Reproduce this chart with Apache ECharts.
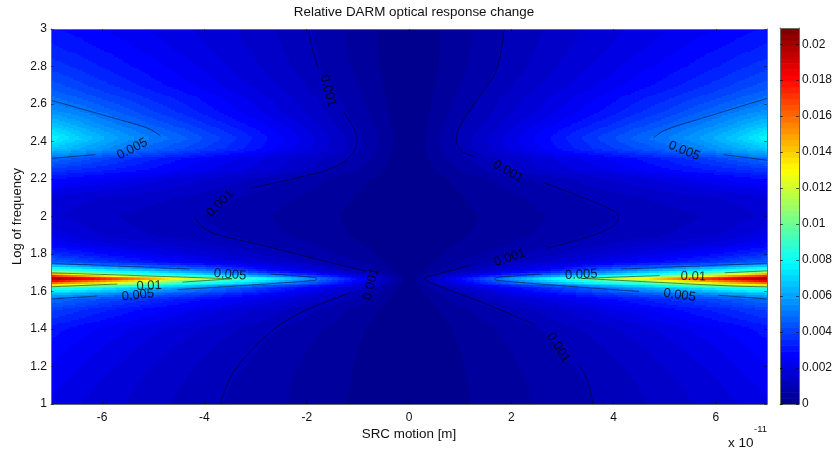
<!DOCTYPE html>
<html><head><meta charset="utf-8">
<style>html,body{margin:0;padding:0;background:#fff}#c{width:836px;height:454px}canvas{filter:blur(.35px)}</style>
<script src="https://cdn.jsdelivr.net/npm/echarts@6/dist/echarts.min.js"></script>
</head><body><div id="c"></div>
<script>
const titleText = 'Relative DARM optical response change';
const xName = 'SRC motion [m]';
const yName = 'Log of frequency';
const xTicks = [-6,-4,-2,0,2,4,6];
const yTicks = [1,1.2,1.4,1.6,1.8,2,2.2,2.4,2.6,2.8,3];
const cbTicks = [0,0.002,0.004,0.006,0.008,0.01,0.012,0.014,0.016,0.018,0.02];
const zMax = 0.0209;
const xCols = [-7,-6.5,-6,-5.5,-5,-4.5,-4,-3.5,-3,-2.5,-2,-1.5,-1,-0.5,0,0.5,1,1.5,2,2.5,3,3.5,4,4.5,5,5.5,6,6.5,7];
const yRows = [1,1.1,1.2,1.3,1.4,1.5,1.56,1.6,1.625,1.65,1.67,1.69,1.71,1.75,1.8,1.85,1.9,2,2.1,2.2,2.25,2.31,2.36,2.42,2.48,2.55,2.63,2.7,2.8,2.9,3];
// values in units of 1e-5, one row per yRows entry, left to right along xCols
const zRows = [
[220,198,178,160,143,125,108,95,82,68,55,41,27,14,0,14,27,41,55,68,82,95,108,125,143,160,178,198,220],
[240,215,190,170,150,132,114,98,84,70,56,42,28,14,0,14,28,42,56,70,84,98,114,132,150,170,190,215,240],
[260,234,208,185,163,143,124,107,91,75,60,45,30,15,0,15,30,45,60,75,91,107,124,143,163,185,208,234,260],
[280,254,228,204,180,158,138,118,100,83,67,50,33,17,0,17,33,50,67,83,100,118,138,158,180,204,228,254,280],
[310,282,255,230,205,181,158,136,115,96,77,58,38,19,0,19,38,58,77,96,115,136,158,181,205,230,255,282,310],
[400,367,335,305,277,248,220,190,162,135,108,81,54,27,0,27,54,81,108,135,162,190,220,248,277,305,335,367,400],
[500,460,425,390,358,325,295,262,230,195,160,125,83,42,0,42,83,125,160,195,230,262,295,325,358,390,425,460,500],
[750,700,650,600,550,500,450,400,345,290,235,175,118,60,0,60,118,175,235,290,345,400,450,500,550,600,650,700,750],
[1000,925,850,780,710,640,570,500,430,360,295,230,160,85,0,85,160,230,295,360,430,500,570,640,710,780,850,925,1000],
[1750,1610,1460,1310,1160,1000,910,820,720,610,500,375,250,125,0,125,250,375,500,610,720,820,910,1000,1160,1310,1460,1610,1750],
[2090,1975,1850,1700,1550,1370,1250,1050,890,740,590,440,295,150,0,150,295,440,590,740,890,1050,1250,1370,1550,1700,1850,1975,2090],
[1650,1430,1230,1060,930,830,735,640,545,465,365,275,185,92,0,92,185,275,365,465,545,640,735,830,930,1060,1230,1430,1650],
[1000,905,815,740,670,600,530,450,345,275,215,160,105,55,0,55,105,160,215,275,345,450,530,600,670,740,815,905,1000],
[500,450,400,360,320,290,260,225,195,165,130,100,70,36,0,36,70,100,130,165,195,225,260,290,320,360,400,450,500],
[360,325,290,260,232,205,180,155,130,108,88,68,47,24,0,24,47,68,88,108,130,155,180,205,232,260,290,325,360],
[270,240,210,190,172,155,138,120,105,87,70,53,36,18,0,18,36,53,70,87,105,120,138,155,172,190,210,240,270],
[220,188,160,142,128,116,110,98,82,68,55,41,28,14,0,14,28,41,55,68,82,98,110,116,128,142,160,188,220],
[170,152,137,125,115,105,96,84,72,60,48,36,24,12,0,12,24,36,48,60,72,84,96,105,115,125,137,152,170],
[185,173,162,152,140,128,116,102,87,72,58,44,30,15,0,15,30,44,58,72,87,102,116,128,140,152,162,173,185],
[300,278,255,233,210,188,166,145,125,104,83,62,42,21,0,21,42,62,83,104,125,145,166,188,210,233,255,278,300],
[380,357,335,310,285,260,235,208,183,157,130,100,66,33,0,33,66,100,130,157,183,208,235,260,285,310,335,357,380],
[500,455,410,370,335,300,270,240,210,180,150,120,88,44,0,44,88,120,150,180,210,240,270,300,335,370,410,455,500],
[680,625,570,510,470,430,390,350,305,255,205,155,104,52,0,52,104,155,205,255,305,350,390,430,470,510,570,625,680],
[780,700,630,570,520,475,425,375,320,270,215,160,108,54,0,54,108,160,215,270,320,375,425,475,520,570,630,700,780],
[690,625,565,515,465,420,375,330,285,240,190,140,95,48,0,48,95,140,190,240,285,330,375,420,465,515,565,625,690],
[580,540,495,445,400,360,320,280,240,200,160,122,82,41,0,41,82,122,160,200,240,280,320,360,400,445,495,540,580],
[500,460,420,385,350,320,285,250,215,180,145,110,73,36,0,36,73,110,145,180,215,250,285,320,350,385,420,460,500],
[440,405,370,338,308,278,248,218,188,158,128,97,65,32,0,32,65,97,128,158,188,218,248,278,308,338,370,405,440],
[380,352,325,298,273,248,222,195,168,141,113,85,57,28,0,28,57,85,113,141,168,195,222,248,273,298,325,352,380],
[335,312,290,268,245,222,200,178,155,132,108,81,54,27,0,27,54,81,108,132,155,178,200,222,245,268,290,312,335],
[300,281,262,243,225,207,187,167,146,125,105,78,52,26,0,26,52,78,105,125,146,167,187,207,225,243,262,281,300]
];
// contour segments
const contours001 = [
[[-1.96,3],[-1.9,2.9],[-1.77,2.79]],
[[-1.28,2.56],[-1.08,2.47],[-1.01,2.42],[-1.09,2.34],[-1.48,2.26],[-2.3,2.2],[-3.1,2.15]],
[[-4.2,2],[-4.08,1.955],[-3.82,1.91],[-2.77,1.84],[-1.48,1.75],[-0.85,1.71]],
[[-1.18,1.59],[-2.13,1.485],[-2.77,1.37],[-3.43,1.17],[-3.69,1]],
[[1.86,3],[1.71,2.78],[1.32,2.62],[0.97,2.47],[0.93,2.41],[1.02,2.35],[1.28,2.32]],
[[2.63,2.18],[3.41,2.1],[4.06,2.02],[4.09,1.99],[4.02,1.955],[3.6,1.9],[2.69,1.83]],
[[1.22,1.74],[0.53,1.69],[0.3,1.67],[0.53,1.635],[1.45,1.54],[2.49,1.42]],
[[3.31,1.21],[3.47,1.14],[3.6,1]]
];
const contours005 = [
[[-7,2.62],[-5.58,2.51],[-5.1,2.47],[-4.86,2.43]],
[[-7,2.31],[-6.13,2.33]],
[[7,2.63],[5.56,2.51],[5,2.46],[4.78,2.42]],
[[6.15,2.33],[7,2.3]],
[[-7,1.75],[-4.28,1.72]],
[[-2.71,1.693],[-1.85,1.675],[-1.8,1.667],[-1.87,1.658],[-4.53,1.61]],
[[-7,1.56],[-6.1,1.576]],
[[2.59,1.693],[1.72,1.675],[1.67,1.667],[1.75,1.658],[4.5,1.6]],
[[4.15,1.72],[7,1.75]],
[[6.05,1.58],[7,1.56]]
];
const contours01 = [
[[-7,1.7],[-3.46,1.668]],
[[-7,1.625],[-5.7,1.64]],
[[-4.43,1.65],[-3.46,1.668]],
[[3.37,1.67],[4.9,1.685]],
[[6.17,1.7],[7,1.71]],
[[3.37,1.67],[6.27,1.63],[7,1.625]]
];
const contourLabels = [
[-5.41,2.36,'0.005',27],[-1.58,2.67,'0.001',-75],[-3.69,2.07,'0.001',45],[-3.5,1.69,'0.005',-5],
[-5.08,1.63,'0.01',3],[-5.3,1.58,'0.005',6],[-0.74,1.64,'0.001',75],[1.94,2.24,'0.001',-30],
[5.38,2.35,'0.005',-22],[1.97,1.78,'0.001',18],[3.37,1.69,'0.005',3],[5.56,1.68,'0.01',-2],
[5.29,1.58,'0.005',-8],[2.92,1.3,'0.001',-58]
];
const jetStops = [[0,[0,0,143]],[0.125,[0,0,255]],[0.375,[0,255,255]],[0.625,[255,255,0]],[0.875,[255,0,0]],[1,[128,0,0]]];
const nLevels = 64;

function jet(t){
  for(let i=1;i<jetStops.length;i++){
    if(t<=jetStops[i][0]){
      const a=jetStops[i-1],b=jetStops[i],f=(t-a[0])/(b[0]-a[0]);
      return 'rgb('+a[1].map((c,k)=>Math.round(c+(b[1][k]-c)*f)).join(',')+')';
    }
  }
  return 'rgb(128,0,0)';
}
const palette = Array.from({length:nLevels},(_,i)=>jet(i/(nLevels-1)));
function colorOf(v){ // v in data units
  return palette[Math.max(0,Math.min(nLevels-1,Math.floor(v/zMax*nLevels)))];
}
const cells=[];
for(let r=0;r<yRows.length-1;r++)for(let c=0;c<xCols.length-1;c++){
  cells.push([xCols[c],xCols[c+1],yRows[r],yRows[r+1],zRows[r][c]*1e-5,zRows[r][c+1]*1e-5,zRows[r+1][c]*1e-5,zRows[r+1][c+1]*1e-5]);
}
function renderCell(p,api){
  const x0=api.value(0),x1=api.value(1),y0=api.value(2),y1=api.value(3);
  const a=api.value(4),b=api.value(5),c=api.value(6),d=api.value(7);
  const p0=api.coord([x0,y0]),p1=api.coord([x1,y1]);
  const w=p1[0]-p0[0],h=p0[1]-p1[1];
  const nx=Math.ceil(w/2),ny=Math.ceil(h/2),kids=[];
  for(let i=0;i<nx;i++)for(let j=0;j<ny;j++){
    const u=(i+.5)/nx,t=(j+.5)/ny;
    const v=a*(1-u)*(1-t)+b*u*(1-t)+c*(1-u)*t+d*u*t;
    const xa=Math.round(p0[0]+w*i/nx),xb=Math.round(p0[0]+w*(i+1)/nx);
    const yb=Math.round(p0[1]-h*j/ny),ya=Math.round(p0[1]-h*(j+1)/ny);
    if(xb>xa&&yb>ya)kids.push({type:'rect',shape:{x:xa,y:ya,width:xb-xa,height:yb-ya},style:{fill:colorOf(v)},silent:true});
  }
  return {type:'group',children:kids};
}
const cbCells=palette.map((_,i)=>[i*zMax/nLevels,(i+1)*zMax/nLevels,i]);
function renderBand(p,api){
  const a=api.coord([0,api.value(0)]),b=api.coord([1,api.value(1)]);
  return {type:'rect',shape:{x:a[0],y:b[1],width:b[0]-a[0],height:a[1]-b[1]+.6},style:{fill:palette[api.value(2)]},silent:true};
}
const FONT='"Liberation Sans",Arial,sans-serif';
const TXT='#111', LINE='#6a6a6a', TICK='rgba(0,0,0,.45)';
function lines(list,xa,width,op){
  return list.map(seg=>({type:'line',data:seg,xAxisIndex:0,yAxisIndex:0,showSymbol:false,symbol:'none',smooth:.35,z:5,silent:true,
    lineStyle:{color:'#000',width:width,opacity:op},animation:false}));
}
const option={
  animation:false,backgroundColor:'#fff',
  title:{text:titleText,left:409,top:1,textAlign:'center',textStyle:{fontFamily:FONT,fontSize:13.4,fontWeight:'normal',color:TXT}},
  graphic:[
    {type:'text',left:728,top:436,style:{text:'x 10',font:'13.5px '+FONT,fill:TXT}},
    {type:'text',left:754,top:424,style:{text:'-11',font:'9.5px '+FONT,fill:TXT}}
  ],
  grid:[
    {left:51,right:69,top:29,bottom:50,outerBoundsMode:'none'},
    {left:780,width:19,top:28,height:376,outerBoundsMode:'none'}
  ],
  xAxis:[
    {type:'value',gridIndex:0,min:-7,max:7,z:10,name:xName,nameLocation:'middle',nameGap:24,nameMoveOverlap:false,nameTextStyle:{fontFamily:FONT,fontSize:13.4,color:TXT},
      splitLine:{show:false},axisLine:{onZero:false,lineStyle:{color:LINE}},axisTick:{inside:true,length:3,lineStyle:{color:TICK},customValues:xTicks},
      axisLabel:{customValues:xTicks,margin:8,fontFamily:FONT,fontSize:12,color:TXT}},
    {type:'value',gridIndex:0,position:'top',min:-7,max:7,z:10,splitLine:{show:false},axisLine:{onZero:false,lineStyle:{color:LINE}},
      axisTick:{inside:true,length:3,lineStyle:{color:TICK},customValues:xTicks},axisLabel:{show:false}},
    {type:'value',gridIndex:1,min:0,max:1,z:10,splitLine:{show:false},axisLine:{onZero:false,lineStyle:{color:LINE}},axisTick:{show:false},axisLabel:{show:false}},
    {type:'value',gridIndex:1,position:'top',min:0,max:1,z:10,splitLine:{show:false},axisLine:{onZero:false,lineStyle:{color:LINE}},axisTick:{show:false},axisLabel:{show:false}}
  ],
  yAxis:[
    {type:'value',gridIndex:0,min:1,max:3,z:10,name:yName,nameLocation:'middle',nameGap:27,nameMoveOverlap:false,nameTextStyle:{fontFamily:FONT,fontSize:13,color:TXT},
      splitLine:{show:false},axisLine:{onZero:false,lineStyle:{color:LINE}},axisTick:{inside:true,length:3,lineStyle:{color:TICK},customValues:yTicks},
      axisLabel:{customValues:yTicks,margin:4,padding:[3,0,0,0],fontFamily:FONT,fontSize:12,color:TXT}},
    {type:'value',gridIndex:0,position:'right',min:1,max:3,z:10,splitLine:{show:false},axisLine:{onZero:false,lineStyle:{color:LINE}},
      axisTick:{inside:true,length:3,lineStyle:{color:TICK},customValues:yTicks},axisLabel:{show:false}},
    {type:'value',gridIndex:1,position:'right',min:0,max:zMax,z:10,splitLine:{show:false},axisLine:{onZero:false,lineStyle:{color:LINE}},
      axisTick:{inside:true,length:3,lineStyle:{color:'rgba(0,0,0,.6)'},customValues:cbTicks},
      axisLabel:{customValues:cbTicks,margin:3,fontFamily:FONT,fontSize:12,color:TXT}},
    {type:'value',gridIndex:1,position:'left',min:0,max:zMax,z:10,splitLine:{show:false},axisLine:{onZero:false,lineStyle:{color:LINE}},
      axisTick:{inside:true,length:3,lineStyle:{color:'rgba(0,0,0,.6)'},customValues:cbTicks},axisLabel:{show:false}}
  ],
  series:[
    {type:'custom',xAxisIndex:0,yAxisIndex:0,data:cells,renderItem:renderCell,encode:{x:[0,1],y:[2,3]},clip:true,silent:true,z:1,animation:false,progressive:0},
    {type:'custom',xAxisIndex:2,yAxisIndex:2,data:cbCells,renderItem:renderBand,encode:{y:[0,1]},silent:true,z:1,animation:false,progressive:0},
    ...lines(contours001,0,.7,.8),
    ...lines(contours005,0,.8,.6),
    ...lines(contours01,0,.8,.6),
    {type:'scatter',xAxisIndex:0,yAxisIndex:0,symbolSize:0,z:6,silent:true,animation:false,
      data:contourLabels.map(l=>({value:[l[0],l[1]],label:{show:true,position:'inside',formatter:l[2],rotate:l[3],fontFamily:FONT,fontSize:13,color:'#000'}}))}
  ]
};
echarts.init(document.getElementById('c'),null,{renderer:'canvas',width:836,height:454}).setOption(option);
</script></body></html>
